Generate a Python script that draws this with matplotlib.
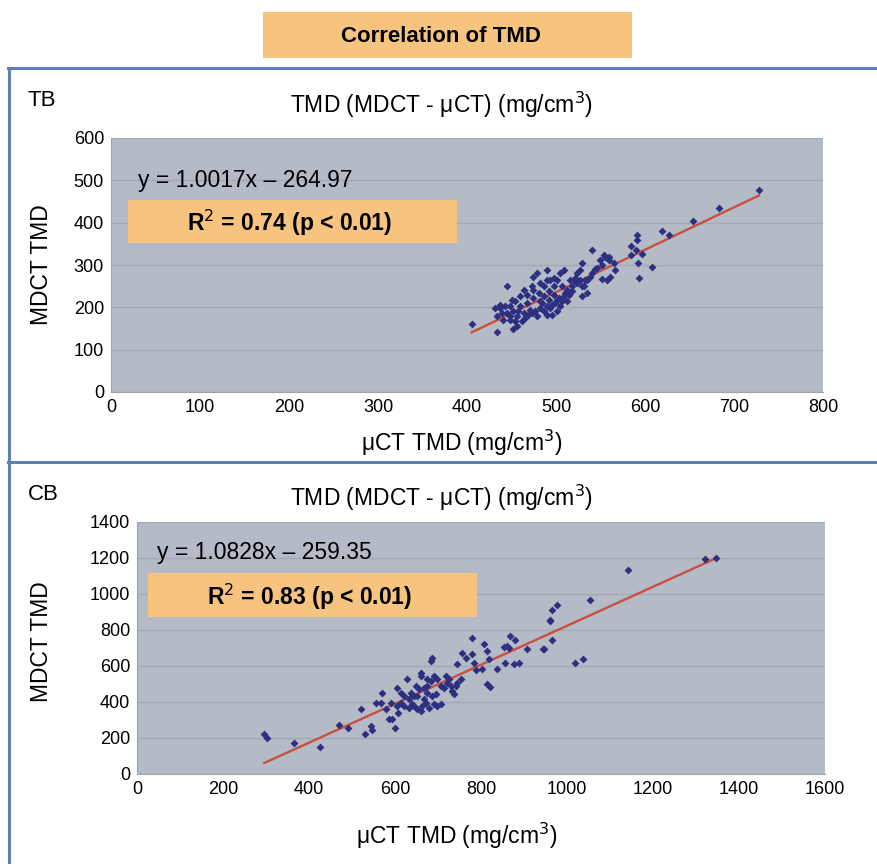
import matplotlib
matplotlib.use("Agg")
import matplotlib.pyplot as plt
from matplotlib.patches import Rectangle
from matplotlib.lines import Line2D
import numpy as np

plt.rcParams['font.family'] = ['Liberation Sans', 'DejaVu Sans']

# TB panel: (uCT TMD, MDCT TMD)
tb_x = [728, 683, 654, 619, 627, 591, 591, 584, 590, 597, 584, 592, 608, 593, 540,
        553.6, 559.3, 549.9, 564.9, 566.8, 561.1, 557.4, 551.7, 544.2, 538.6, 529.2,
        527.3, 523.6, 519.8, 533, 531.1, 534.8, 529.2, 517.9, 512.3, 508.5, 504.8,
        501, 489.8, 478.5, 474.7, 482.3, 493.5, 497.3, 506.7, 508.5, 512.3, 504.8,
        501, 495.4, 489.8, 482.3, 474.7, 467.2, 463.5, 474.7, 467.2, 459.7, 454.1,
        452.2, 444.7, 437.2, 433.4, 440.9, 448.5, 456, 463.5, 471, 478.5, 486, 489.8,
        456, 444.7, 405.3, 434.2, 451.5,
        437.2, 448.5, 457.8, 465.4, 472.9, 482.3, 493.5, 499.1, 502.9, 510.4, 516,
        521.7, 527.3, 534.8, 540.5, 546.1, 551.7, 559.3, 555.5, 489.8, 497.3, 486,
        491.6, 497.3, 501, 486, 480.4, 472.9, 459.7, 450.3, 442.8, 431.5, 439, 448.5,
        454.1, 461.6, 469.1, 476.6, 484.2, 491.6, 495.4, 506.7, 514.2, 517.9, 523.6,
        529.2]
tb_y = [477, 434, 404, 380, 370, 370, 360, 344, 335, 327, 323, 305, 296, 269, 335,
        323.5, 319.6, 311.8, 303.9, 288.3, 272.7, 264.9, 266.4, 289.9, 272.7, 303.9,
        288.3, 280.5, 264.9, 264.9, 249.3, 233.7, 225.9, 249.3, 241.5, 288.3, 280.5,
        264.9, 288.3, 280.5, 272.7, 257.1, 264.9, 249.3, 249.3, 225.9, 214.1, 202.4,
        190.7, 182.9, 202.4, 214.1, 241.5, 229.8, 241.5, 221.9, 210.2, 202.4, 214.1,
        190.7, 186.8, 198.5, 179, 171.2, 171.2, 179, 186.8, 194.6, 179, 190.7, 182.9,
        155.5, 249.3, 161.8, 141.5, 149.3,
        206.3, 202.4, 190.7, 175.1, 186.8, 198.5, 198.5, 210.2, 221.9, 233.7, 264.9,
        268.8, 264.9, 264.9, 280.5, 292.2, 300, 311.8, 319.6, 264.9, 268.8, 249.3,
        237.5, 229.8, 218, 225.9, 233.7, 249.3, 225.9, 218, 202.4, 198.5, 186.8, 179,
        167.2, 167.2, 182.9, 190.7, 210.2, 218, 206.3, 214.1, 229.8, 237.5, 257.1,
        249.3]

# CB panel
cb_x = [295.7, 302, 365, 425, 470, 491, 520, 530, 543.5, 547, 555, 566.6, 570.5,
        578.2, 593.7, 586, 599.1, 606.9, 605.3, 613.1, 628.6, 632.4, 640.2, 651.8,
        655.7, 659.5, 659.5, 647.9, 667.3, 675, 682.7, 686.6, 690.5, 698.2, 706,
        698.2, 713.7, 721.4, 736.9, 740.8, 752.4, 756.3, 764, 779.5, 779.5, 783.4,
        787.3, 806.6, 814.3, 818.2, 814.3, 820.5, 802.7, 837.6, 853, 860.8, 868.5,
        880.1, 864.7, 856.9, 876.3, 887.9, 907.2, 945.9, 961.4, 965.3, 976.9, 965.3,
        744.7, 686.6, 682.7, 717.6, 729.2, 613.1, 589.9,
        620.8, 636.3, 644.1, 651.8, 663.4, 671.1, 678.9, 659.5, 675, 644.1, 632.4,
        620.8, 605.3, 694.4, 706, 725.3, 733.1, 744.7, 690.5, 675, 667.3,
        1321.4, 1346.2, 1141.8, 1052.8, 959.9, 944.4, 1017.9, 1036.5]
cb_y = [221, 197.5, 175, 151, 271, 256, 363, 221, 267, 245, 396.7, 396.7, 452,
        359.8, 308.1, 308.1, 258.3, 341.3, 479.6, 452, 525.8, 415.1, 387.4, 433.5,
        470.4, 544.2, 562.7, 488.9, 415.1, 488.9, 516.6, 433.5, 387.4, 378.2, 387.4,
        525.8, 479.6, 507.4, 442.8, 488.9, 525.8, 673.3, 645.7, 756.3, 664.1, 618,
        577.4, 719.5, 682.6, 636.4, 498.1, 485.2, 581.1, 584.8, 706.5, 710.2, 765.6,
        747.1, 701, 618, 608.8, 618, 691.8, 691.8, 848.6, 913.1, 940.8, 747.1,
        608.8, 645.7, 627.2, 544.2, 488.9, 396.7, 396.7,
        433.5, 452, 378.2, 359.8, 378.2, 396.7, 369, 350.5, 452, 433.5, 369,
        378.2, 378.2, 442.8, 488.9, 525.8, 461.2, 507.4, 544.2, 525.8, 479.6,
        1193.5, 1199, 1134.5, 968.5, 854.1, 691.8, 618, 636.4]

tb_fit = (1.0017, -264.97)
cb_fit = (1.0828, -259.35)

PLOT_BG = "#b4bac6"
GRID = "#a3a9b5"
DOT = "#2d2f80"
FIT = "#c9503e"
ORANGE = "#f7c47f"
FRAME = "#5e80b6"

W, H = 878, 864
fig = plt.figure(figsize=(W / 100, H / 100), dpi=100)


def fx(px):
    return px / W


def fy(py):
    return 1 - py / H


# frame lines
fig.add_artist(Line2D([fx(8), 1], [fy(68), fy(68)], color=FRAME, lw=2.2))
fig.add_artist(Line2D([fx(8), 1], [fy(462), fy(462)], color=FRAME, lw=2.2))
fig.add_artist(Line2D([fx(9), fx(9)], [fy(68), 0], color=FRAME, lw=2.2))

# title box
fig.add_artist(Rectangle((fx(263), fy(58)), fx(632) - fx(263), fy(12) - fy(58),
                         transform=fig.transFigure, facecolor=ORANGE, edgecolor="none"))
fig.text(fx(441), fy(37), "Correlation of TMD", ha="center", va="center",
         fontsize=16, fontweight="bold")


def panel(rect, xs, ys, fit, xmax, xstep, ymax, ystep, label, top_px, eq_px, box_px,
          xlab_px, ylab_py):
    l, t, r, b = rect
    ax = fig.add_axes([fx(l), fy(b), fx(r) - fx(l), fy(t) - fy(b)])
    ax.set_facecolor(PLOT_BG)
    ax.set_xlim(0, xmax)
    ax.set_ylim(0, ymax)
    ax.set_xticks(np.arange(0, xmax + 1, xstep))
    ax.set_yticks(np.arange(0, ymax + 1, ystep))
    ax.yaxis.grid(True, color=GRID, lw=1)
    ax.set_axisbelow(True)
    for s in ["top", "right"]:
        ax.spines[s].set_visible(False)
    for s in ["left", "bottom"]:
        ax.spines[s].set_color("#9ea3ad")
    ax.tick_params(length=0, labelsize=13, pad=5)
    ax.scatter(xs, ys, s=16, marker="D", color=DOT, linewidths=0, zorder=3)
    x0, x1 = min(xs), max(xs)
    ax.plot([x0, x1], [fit[0] * x0 + fit[1], fit[0] * x1 + fit[1]], color=FIT, lw=1.7, zorder=2)

    fig.text(fx(xlab_px[0]), fy(xlab_px[1]), "\u03bcCT TMD (mg/cm$^3$)", fontsize=16.5,
             ha="center", va="center")
    fig.text(fx(42), fy(ylab_py), "MDCT TMD", fontsize=16.5, rotation=90,
             ha="center", va="center")
    fig.text(fx(28), fy(top_px), label, fontsize=16, va="center")
    fig.text(fx(441), fy(top_px + 4), "TMD (MDCT - \u03bcCT) (mg/cm$^3$)", fontsize=16.5,
             ha="center", va="center")
    sign = "\u2013" if fit[1] < 0 else "+"
    fig.text(fx(eq_px[0]), fy(eq_px[1]), f"y = {fit[0]:.4f}x {sign} {abs(fit[1]):.2f}",
             fontsize=16.5, va="center")
    bl, bt, br, bb = box_px
    fig.add_artist(Rectangle((fx(bl), fy(bb)), fx(br) - fx(bl), fy(bt) - fy(bb),
                             transform=fig.transFigure, facecolor=ORANGE, edgecolor="none", zorder=5))
    return ax


panel((111, 138, 823, 392), tb_x, tb_y, tb_fit, 800, 100, 600, 100, "TB", 101,
      (138, 181), (128, 200, 457, 243), (462, 443), 265)
fig.text(fx(290), fy(223), "R$^2$ = 0.74 (p < 0.01)", fontsize=16.5, fontweight="bold",
         ha="center", va="center", zorder=6)

panel((137, 522, 825, 774), cb_x, cb_y, cb_fit, 1600, 200, 1400, 200, "CB", 494,
      (157, 553), (148, 573, 477, 617), (457, 836), 642)
fig.text(fx(310), fy(597), "R$^2$ = 0.83 (p < 0.01)", fontsize=16.5, fontweight="bold",
         ha="center", va="center", zorder=6)

fig.savefig("out.png", dpi=100)
